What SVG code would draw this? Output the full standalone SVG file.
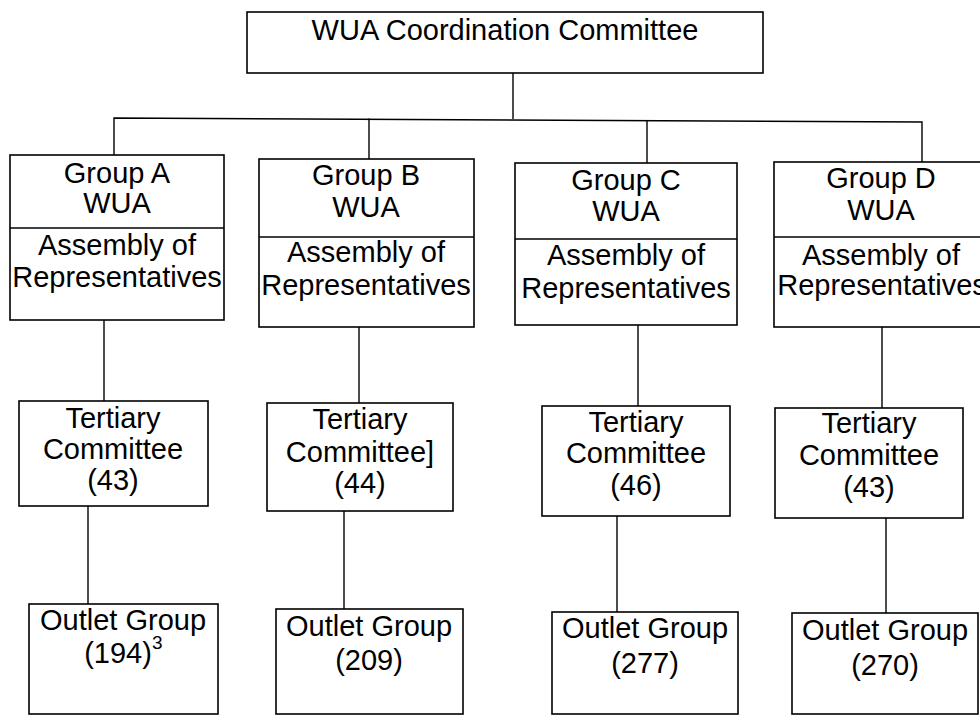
<svg xmlns="http://www.w3.org/2000/svg" width="980" height="715" viewBox="0 0 980 715">
<style>
.box{fill:none;stroke:#000;stroke-width:1.6}
.ln{fill:none;stroke:#000;stroke-width:1.4}
text{font-family:"Liberation Sans",Arial,sans-serif;font-size:29px;fill:#000;text-anchor:middle}
.sup{font-size:19px;text-anchor:start}
</style>
<rect width="980" height="715" fill="#fff"/>
<g id="connectors">
<path class="ln" d="M513 73 V119"/>
<path class="ln" d="M114 155 V118 L922 122 V162"/>
<path class="ln" d="M369 118.5 V159"/>
<path class="ln" d="M647 121 V163"/>
<path class="ln" d="M104 320 V401"/>
<path class="ln" d="M88 506 V604"/>
<path class="ln" d="M359 327 V403"/>
<path class="ln" d="M344 511 V609"/>
<path class="ln" d="M638 325 V406"/>
<path class="ln" d="M617 516 V612"/>
<path class="ln" d="M882 327 V408"/>
<path class="ln" d="M886 518 V613"/>
</g>
<g id="top">
<rect class="box" x="247" y="12" width="516" height="61"/>
<text x="505" y="40">WUA Coordination Committee</text>
</g>
<g id="groupA">
<rect class="box" x="10" y="155" width="214" height="165"/>
<line class="box" x1="10" y1="228" x2="224" y2="228"/>
<text x="117" y="183">Group A</text>
<text x="117" y="213">WUA</text>
<text x="117" y="255">Assembly of</text>
<text x="117" y="287">Representatives</text>
</g>
<g id="groupB">
<rect class="box" x="259" y="159" width="215" height="168"/>
<line class="box" x1="259" y1="237" x2="474" y2="237"/>
<text x="366" y="185">Group B</text>
<text x="366" y="217">WUA</text>
<text x="366" y="262">Assembly of</text>
<text x="366" y="295">Representatives</text>
</g>
<g id="groupC">
<rect class="box" x="515" y="163" width="222" height="162"/>
<line class="box" x1="515" y1="239" x2="737" y2="239"/>
<text x="626" y="190">Group C</text>
<text x="626" y="221">WUA</text>
<text x="626" y="265">Assembly of</text>
<text x="626" y="298">Representatives</text>
</g>
<g id="groupD">
<rect class="box" x="774" y="162" width="216" height="165"/>
<line class="box" x1="774" y1="237" x2="990" y2="237"/>
<text x="881" y="188">Group D</text>
<text x="881" y="220">WUA</text>
<text x="881" y="265">Assembly of</text>
<text x="882" y="295">Representatives</text>
</g>
<g id="tertiaryA">
<rect class="box" x="19" y="401" width="189" height="105"/>
<text x="113" y="428">Tertiary</text>
<text x="113" y="459">Committee</text>
<text x="113" y="490">(43)</text>
</g>
<g id="tertiaryB">
<rect class="box" x="267" y="403" width="186" height="108"/>
<text x="360" y="429">Tertiary</text>
<text x="360" y="462">Committee]</text>
<text x="360" y="493">(44)</text>
</g>
<g id="tertiaryC">
<rect class="box" x="542" y="406" width="188" height="110"/>
<text x="636" y="432">Tertiary</text>
<text x="636" y="463">Committee</text>
<text x="636" y="495">(46)</text>
</g>
<g id="tertiaryD">
<rect class="box" x="775" y="408" width="188" height="110"/>
<text x="869" y="433">Tertiary</text>
<text x="869" y="465">Committee</text>
<text x="869" y="497">(43)</text>
</g>
<g id="outletA">
<rect class="box" x="29" y="604" width="189" height="110"/>
<text x="123" y="630">Outlet Group</text>
<text x="118" y="663">(194)</text>
<text class="sup" x="152" y="649">3</text>
</g>
<g id="outletB">
<rect class="box" x="276" y="609" width="187" height="105"/>
<text x="369" y="636">Outlet Group</text>
<text x="369" y="670">(209)</text>
</g>
<g id="outletC">
<rect class="box" x="552" y="612" width="186" height="102"/>
<text x="645" y="638">Outlet Group</text>
<text x="645" y="673">(277)</text>
</g>
<g id="outletD">
<rect class="box" x="792" y="613" width="186" height="101"/>
<text x="885" y="640">Outlet Group</text>
<text x="885" y="675">(270)</text>
</g>
</svg>
